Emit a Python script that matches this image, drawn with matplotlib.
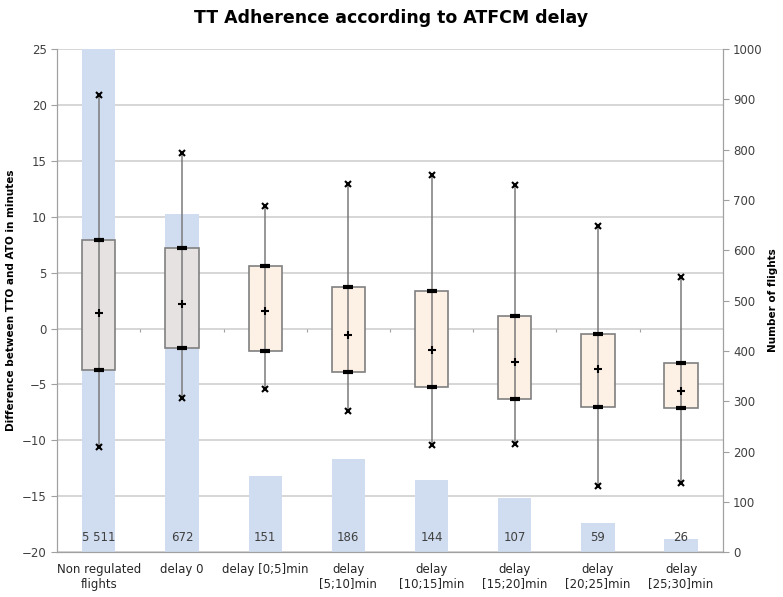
import matplotlib.pyplot as plt
import numpy as np

categories = ["Non regulated\nflights", "delay 0", "delay [0;5]min", "delay\n[5;10]min",
              "delay\n[10;15]min", "delay\n[15;20]min", "delay\n[20;25]min", "delay\n[25;30]min"]
counts = [5511, 672, 151, 186, 144, 107, 59, 26]
count_labels = ["5 511", "672", "151", "186", "144", "107", "59", "26"]
minimum = [-10.6, -6.2, -5.4, -7.4, -10.4, -10.3, -14.1, -13.8]
q1 = [-3.7, -1.7, -2.0, -3.9, -5.2, -6.3, -7.0, -7.1]
mean = [1.4, 2.2, 1.6, -0.6, -1.9, -3.0, -3.6, -5.6]
q3 = [7.9, 7.2, 5.6, 3.7, 3.4, 1.1, -0.5, -3.1]
maximum = [20.9, 15.7, 11.0, 12.9, 13.7, 12.8, 9.2, 4.6]
box_colors = ["#E7E2E2", "#E7E2E2", "#FDF1E6", "#FDF1E6", "#FDF1E6", "#FDF1E6", "#FDF1E6", "#FDF1E6"]

ymin, ymax = -20, 25
cmax = 1000

fig = plt.figure(figsize=(7.83, 5.97), dpi=100)
ax = fig.add_axes([0.073, 0.075, 0.85, 0.843])
ax2 = ax.twinx()
ax.set_zorder(ax2.get_zorder() + 1)
ax.patch.set_visible(False)

x = np.arange(len(categories))

# gridlines at the minute ticks, drawn behind the bars
yticks = np.arange(ymin, ymax + 1, 5)
for t in yticks:
    ax2.axhline((t - ymin) / (ymax - ymin) * cmax, color="#D0D0D0", lw=1.2, zorder=0)

# number of flights bars
ax2.bar(x, np.minimum(counts, cmax), width=0.4, color="#D0DDF0", zorder=1)
for xi, lab in zip(x, count_labels):
    ax2.text(xi, 30, lab, ha="center", va="center", fontsize=8.5, color="#404040", zorder=3)
ax2.set_ylim(0, cmax)
ax2.set_yticks(np.arange(0, cmax + 1, 100))
ax2.set_ylabel("Number of flights", fontsize=7.5, fontweight="bold", labelpad=4)

# boxes
for i in range(len(categories)):
    ax.bar(x[i], q3[i] - q1[i], bottom=q1[i], width=0.4, color=box_colors[i],
           edgecolor="#808080", lw=1.2, zorder=2)
    ax.plot([x[i], x[i]], [minimum[i], maximum[i]], color="#7A7A7A", lw=1.1, zorder=3)
ax.plot(x, q1, ls="none", marker="_", ms=7, mew=3, color="black", zorder=4)
ax.plot(x, q3, ls="none", marker="_", ms=7, mew=3, color="black", zorder=4)
ax.plot(x, mean, ls="none", marker="+", ms=6, mew=1.5, color="black", zorder=4)
ax.plot(x, minimum, ls="none", marker="x", ms=5, mew=1.5, color="black", zorder=4)
ax.plot(x, maximum, ls="none", marker="x", ms=5, mew=1.5, color="black", zorder=4)

# small category ticks on the zero line
bounds = np.arange(len(categories) + 1) - 0.5
ax.vlines(bounds[1:-1], -0.3, 0, color="#A0A0A0", lw=0.8, zorder=1)

ax.set_xlim(-0.5, len(categories) - 0.5)
ax.set_ylim(ymin, ymax)
ax.set_yticks(yticks)
ax.set_xticks(x)
ax.set_xticklabels(categories, fontsize=8.5, color="#262626")
ax.tick_params(axis="x", length=0, pad=8)
ax.tick_params(axis="y", labelsize=8.5, colors="#404040", length=4, color="#A0A0A0")
ax2.tick_params(axis="y", labelsize=8.5, colors="#404040", length=4, color="#A0A0A0")
ax.set_ylabel("Difference between TTO and ATO in minutes", fontsize=7.5, fontweight="bold", labelpad=4)

for a in (ax, ax2):
    for side in ("left", "right", "bottom"):
        a.spines[side].set_color("#A0A0A0")
    a.spines["top"].set_visible(False)

fig.suptitle("TT Adherence according to ATFCM delay", fontsize=12.5, fontweight="bold", y=0.985)

fig.savefig("out.png", dpi=100)
